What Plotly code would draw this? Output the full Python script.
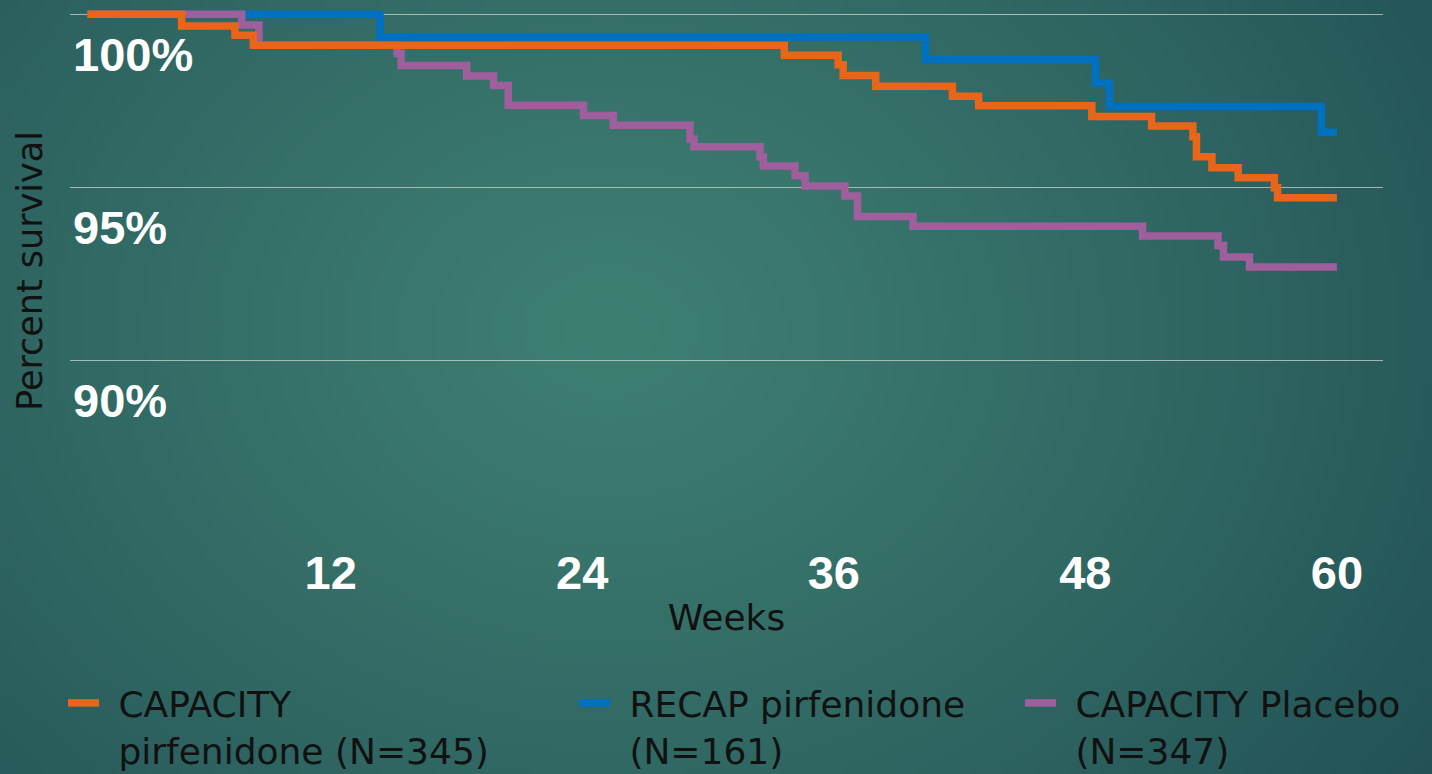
import base64
import struct
import zlib

import numpy as np
import plotly.graph_objects as go

# Kaplan-Meier survival (%) by week, one step per change point
weeks_capacity_pfd = [0.4, 4.89, 7.44, 8.31, 33.64, 36.21, 36.45, 38.0, 41.66, 42.91,
                      48.31, 51.16, 53.13, 53.3, 54.04, 55.29, 57.02, 57.17, 60.0]
surv_capacity_pfd = [100.0, 99.66, 99.39, 99.10, 98.81, 98.54, 98.23, 97.92, 97.63, 97.35,
                     97.04, 96.77, 96.46, 95.88, 95.56, 95.27, 94.98, 94.69, 94.69]

weeks_recap_pfd = [0.4, 14.35, 40.37, 48.48, 49.15, 59.26, 60.0]
surv_recap_pfd = [100.0, 99.34, 98.68, 98.01, 97.33, 96.59, 96.59]

weeks_capacity_pbo = [0.4, 7.76, 8.58, 15.17, 15.36, 18.49, 19.77, 20.47, 24.06, 25.48,
                      29.14, 29.33, 32.48, 32.64, 34.15, 34.63, 36.53, 37.13, 39.78,
                      50.73, 54.33, 54.59, 55.83, 60.0]
surv_capacity_pbo = [100.0, 99.69, 99.10, 98.86, 98.52, 98.21, 97.94, 97.37, 97.07, 96.79,
                     96.39, 96.17, 95.87, 95.61, 95.33, 95.03, 94.74, 94.15, 93.87,
                     93.59, 93.31, 92.98, 92.69, 92.69]

# thin spaces keep the legend text clear of its colour swatch
series_names = ["\u2009\u2009CAPACITY<br>\u2009\u2009pirfenidone (N=345)",
                "\u2009\u2009RECAP pirfenidone<br>\u2009\u2009(N=161)",
                "\u2009\u2009CAPACITY Placebo<br>\u2009\u2009(N=347)"]
series_colors = ["#E8651A", "#0070C0", "#9E5F9C"]

week_ticks = [12, 24, 36, 48, 60]
pct_ticks = [85, 90, 95, 100]
pct_tick_text = ["", "90%", "95%", "100%"]

W, H = 1432, 774
M_L, M_R, M_T, M_B = 70, 49, 9, 241


def gradient_png(w, h):
    """Radial teal backdrop, lighter slightly left of centre."""
    ys, xs = np.mgrid[0:h, 0:w]
    fx = (xs + 0.5) / w * W
    fy = (ys + 0.5) / h * H
    d = np.sqrt(((fx - 610) / 900.0) ** 2 + ((fy - 330) / 720.0) ** 2)
    t = np.clip(d, 0, 1.15) / 1.15
    t = t ** 1.15
    c0 = np.array([63, 127, 114], dtype=float)
    c1 = np.array([33, 80, 84], dtype=float)
    img = (c0[None, None, :] * (1 - t[..., None]) + c1[None, None, :] * t[..., None])
    img = np.clip(img, 0, 255).astype(np.uint8)
    raw = b"".join(b"\x00" + img[r].tobytes() for r in range(h))

    def chunk(tag, data):
        c = struct.pack(">I", len(data)) + tag + data
        return c + struct.pack(">I", zlib.crc32(tag + data) & 0xFFFFFFFF)

    png = b"\x89PNG\r\n\x1a\n"
    png += chunk(b"IHDR", struct.pack(">IIBBBBB", w, h, 8, 2, 0, 0, 0))
    png += chunk(b"IDAT", zlib.compress(raw, 9))
    png += chunk(b"IEND", b"")
    return "data:image/png;base64," + base64.b64encode(png).decode()


fig = go.Figure()

# draw order: RECAP at the back, placebo, then CAPACITY pirfenidone on top
order = [1, 2, 0]
all_weeks = [weeks_capacity_pfd, weeks_recap_pfd, weeks_capacity_pbo]
all_surv = [surv_capacity_pfd, surv_recap_pfd, surv_capacity_pbo]
legend_ids = ["legend", "legend2", "legend3"]

for i in order:
    fig.add_trace(go.Scatter(
        x=all_weeks[i], y=all_surv[i], mode="lines", line_shape="hv",
        line=dict(color=series_colors[i], width=7.5),
        name=series_names[i], legend=legend_ids[i], hoverinfo="skip",
    ))

pw = W - M_L - M_R
ph = H - M_T - M_B
legend_font = dict(family="DejaVu Sans", size=36, color="#111111")
legend_px = [63, 574, 1020]
legend_top = 673
leg_common = dict(font=legend_font, bgcolor="rgba(0,0,0,0)", itemwidth=31,
                  valign="top", yanchor="top", xanchor="left", orientation="v")

plot_bg_x = -M_L / pw
plot_bg_y = 1 + M_T / ph
leg_y = (M_T + ph - legend_top) / ph

fig.update_layout(
    width=W, height=H,
    margin=dict(l=M_L, r=M_R, t=M_T, b=M_B, autoexpand=False),
    paper_bgcolor="#2f6a66",
    plot_bgcolor="rgba(0,0,0,0)",
    showlegend=True,
    legend=dict(x=(legend_px[0] - M_L) / pw, y=leg_y, **leg_common),
    legend2=dict(x=(legend_px[1] - M_L) / pw, y=leg_y, **leg_common),
    legend3=dict(x=(legend_px[2] - M_L) / pw, y=leg_y, **leg_common),
    images=[dict(
        source=gradient_png(179, 97), xref="paper", yref="paper",
        x=plot_bg_x, y=plot_bg_y, sizex=W / pw, sizey=H / ph,
        xanchor="left", yanchor="top", sizing="stretch", layer="below",
    )],
    xaxis=dict(
        range=[-0.434, 62.2], showgrid=False, zeroline=False, showline=False,
        tickmode="array", tickvals=week_ticks, ticks="",
        tickfont=dict(family="Liberation Sans", size=47, color="white", weight="bold"),
        ticklabelstandoff=8,
        title=dict(text="Weeks", font=dict(family="DejaVu Sans", size=36, color="#111111"),
                   standoff=6),
    ),
    yaxis=dict(
        range=[85, 100.15], showgrid=True, gridcolor="rgba(205,212,210,0.75)", gridwidth=1,
        zeroline=False, showline=False, ticks="",
        tickmode="array", tickvals=pct_ticks, ticktext=pct_tick_text,
        ticklabelposition="inside", ticklabelshift=40,
        tickfont=dict(family="Liberation Sans", size=47, color="white", weight="bold"),
        title=dict(text="Percent survival",
                   font=dict(family="DejaVu Sans", size=35, color="#111111"), standoff=19),
    ),
)

fig.write_html("out.html")
